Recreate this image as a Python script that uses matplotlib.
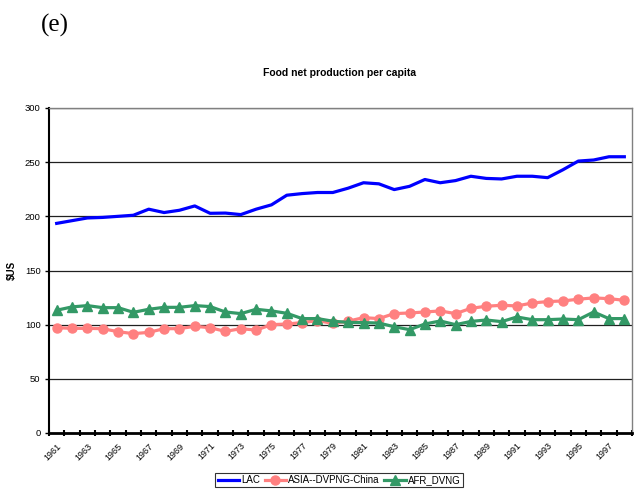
import numpy as np
import matplotlib
matplotlib.use("Agg")
from matplotlib import pyplot as plt

plt.rcParams['font.family'] = ['Liberation Sans', 'DejaVu Sans']

years = list(range(1961, 1999))

lac = [193.5, 196, 198.5, 199, 200, 201, 206.6, 203.5, 205.6, 209.6,
       202.8, 203, 201.6, 206.6, 210.6, 219.5, 221, 222, 222, 226,
       231, 230, 224.7, 227.7, 234, 231, 233, 237, 235, 234.5,
       237, 237, 235.7, 243, 251, 252, 255, 255]

asia = [97.2, 96.6, 96.6, 96.3, 93.5, 91.7, 92.9, 96.3, 96.3, 98.5,
        97.2, 93.8, 96.3, 95, 100, 100.6, 101.9, 103.7, 101.2, 103.2,
        106.5, 105.6, 110.2, 110.8, 111.7, 112.7, 110.2, 115.1, 117, 117.9,
        117.3, 120, 121.3, 121.9, 123.5, 124.7, 124, 122.5]

afr = [113.3, 116.4, 117.6, 115.7, 115.7, 111.4, 114.2, 116, 116, 117.6,
       116.7, 111.7, 110.2, 114.2, 112.7, 110.5, 105.6, 105.6, 103.2, 102.1,
       101.9, 101.5, 98.1, 95.4, 100.6, 103.4, 100, 103, 104.3, 102.8,
       107.1, 104.6, 104.6, 105.2, 104.6, 111.7, 105.6, 105.6]

yticks = [0, 50, 100, 150, 200, 250, 300]

fig = plt.figure(figsize=(6.34, 4.91), dpi=100)
ax = fig.add_axes([49/634, 1 - 433/491, 583/634, 325/491])

x = np.arange(len(years))
ax.plot(x, lac, color='#0000FF', lw=2.3, label='LAC')
ax.plot(x, asia, color='#FF8080', lw=2.3, marker='o', ms=6.5, label='ASIA--DVPNG-China')
ax.plot(x, afr, color='#339966', lw=2.3, marker='^', ms=7, label='AFR_DVNG')

ax.set_xlim(-0.5, len(years) - 0.5)
ax.set_ylim(0, 300)
ax.set_yticks(yticks)
ax.set_yticklabels([str(v) for v in yticks], fontsize=6.8)
for v in yticks[1:]:
    ax.axhline(v, color='#202020', lw=0.9, zorder=0)

# category ticks sit between the years, labels on every other year
ax.set_xticks(np.arange(-0.5, len(years)), minor=True)
ax.set_xticks(x[::2])
ax.set_xticklabels([str(y) for y in years[::2]], rotation=45, ha='right',
                   va='top', rotation_mode='anchor', fontsize=6.5)
ax.tick_params(axis='x', which='major', length=0, pad=6)
ax.tick_params(axis='x', which='minor', length=4, width=1.5, direction='inout')
ax.tick_params(axis='y', length=3, width=1, pad=3)

for s in ['top', 'right']:
    ax.spines[s].set_color('#808080')
    ax.spines[s].set_linewidth(1)
ax.spines['left'].set_linewidth(1.5)
ax.spines['bottom'].set_linewidth(2)

ax.set_ylabel('$US', fontsize=7, fontweight='bold', labelpad=6)
fig.text(340/634, 1 - 73/491, 'Food net production per capita', ha='center',
         va='center', fontsize=7.5, fontweight='bold')
fig.text(41/634, 1 - 25/491, '(e)', ha='left', va='center', fontsize=18,
         family=['Liberation Serif', 'DejaVu Serif'])

leg = fig.legend(loc='center', bbox_to_anchor=(339/634, 1 - 480/491), ncol=3,
                 fontsize=7, frameon=True, fancybox=False, handlelength=2.2,
                 handletextpad=0.2, columnspacing=0.5, borderpad=0.25)
leg.get_frame().set_edgecolor('black')
leg.get_frame().set_linewidth(0.8)

fig.savefig('out.png', dpi=100)
